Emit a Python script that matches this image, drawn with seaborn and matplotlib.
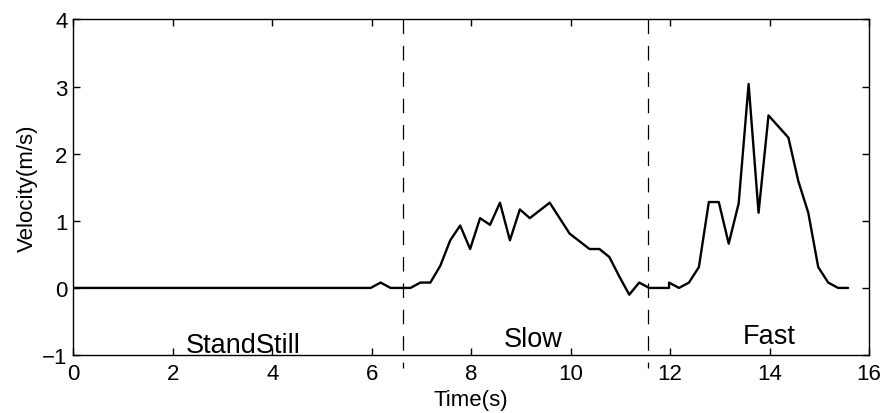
import matplotlib
matplotlib.use("Agg")
import matplotlib.pyplot as plt
import seaborn as sns
import pandas as pd

# ---- data ----
time_s = [0.0, 5.98, 6.18, 6.38, 6.78, 6.98, 7.18, 7.38, 7.58, 7.78, 7.98,
          8.18, 8.38, 8.58, 8.78, 8.98, 9.18, 9.58, 9.98, 10.38, 10.58, 10.78,
          10.98, 11.18, 11.38, 11.58, 11.98, 11.98, 12.18, 12.38, 12.58, 12.78,
          12.98, 13.18, 13.38, 13.58, 13.78, 13.98, 14.38, 14.58, 14.78, 14.98,
          15.18, 15.38, 15.58]
velocity = [0.0, 0.0, 0.08, 0.0, 0.0, 0.08, 0.08, 0.33, 0.71, 0.93, 0.58,
            1.04, 0.94, 1.27, 0.71, 1.17, 1.04, 1.27, 0.81, 0.58, 0.58, 0.46,
            0.17, -0.10, 0.08, 0.0, 0.0, 0.08, 0.0, 0.08, 0.31, 1.28,
            1.28, 0.66, 1.26, 3.04, 1.12, 2.57, 2.24, 1.59, 1.12, 0.31,
            0.08, 0.0, 0.0]
boundaries = [6.64, 11.56]
phase_labels = ["StandStill", "Slow", "Fast"]
phase_x = [3.42, 9.24, 13.99]
phase_y = [-0.95, -0.87, -0.82]
x_ticks = [0, 2, 4, 6, 8, 10, 12, 14, 16]
y_ticks = [-1, 0, 1, 2, 3, 4]

sns.set_style("white")
plt.rcParams['font.family'] = ['Liberation Sans', 'DejaVu Sans']
plt.rcParams['axes.unicode_minus'] = True
plt.rcParams['axes.labelcolor'] = 'black'
plt.rcParams['text.color'] = 'black'

fig = plt.figure(figsize=(8.83, 4.14), dpi=100)
ax = fig.add_axes([0.083, 0.140, 0.9011, 0.8105])

df = pd.DataFrame({"Time": time_s, "Velocity": velocity})
sns.lineplot(data=df, x="Time", y="Velocity", sort=False, estimator=None,
             color="black", linewidth=1.7, ax=ax)

lw = 0.9
for b in boundaries:
    ax.plot([b, b], [4, -1.2], color="black", linewidth=lw,
            linestyle=(0, (10.5 / lw, 8.5 / lw)), clip_on=False, zorder=3)

for lab, xx, yy in zip(phase_labels, phase_x, phase_y):
    ax.text(xx, yy, lab, ha="center", va="baseline", fontsize=19.5, color="black")

ax.set_xlim(0, 16)
ax.set_ylim(-1, 4)
ax.set_xticks(x_ticks)
ax.set_yticks(y_ticks)
ax.set_xlabel("Time(s)", fontsize=16, labelpad=3, color="black")
ax.set_ylabel("Velocity(m/s)", fontsize=16, labelpad=3, color="black")
ax.tick_params(direction="in", length=5, width=1, labelsize=16,
               top=True, right=True, bottom=True, left=True,
               color="black", labelcolor="black")
ax.tick_params(axis="x", pad=6)
ax.tick_params(axis="y", pad=4)
for s in ax.spines.values():
    s.set_visible(True)
    s.set_color("black")
    s.set_linewidth(1.0)

fig.savefig("out.png", dpi=100)
